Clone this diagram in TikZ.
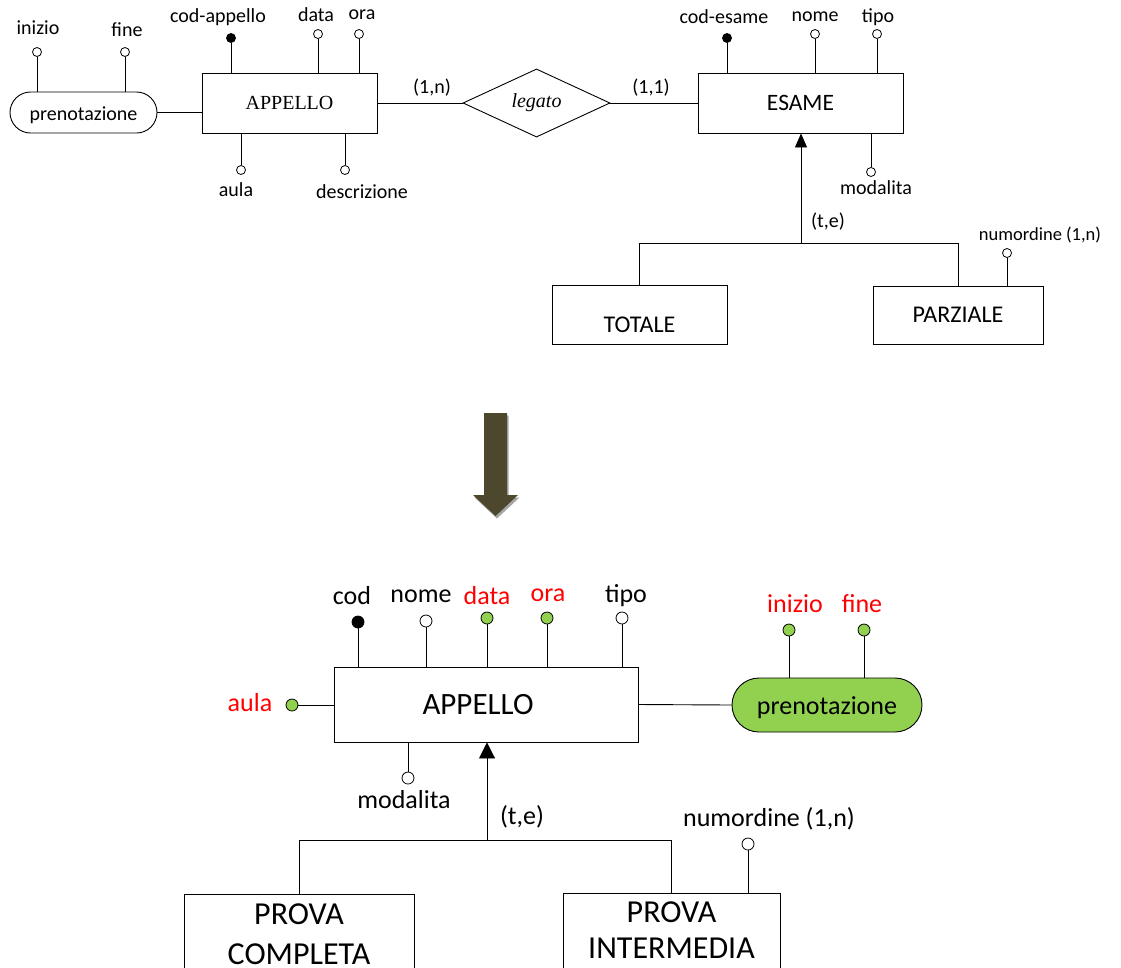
\documentclass[tikz,border=0pt]{standalone}
\usepackage{fontspec}
\setmainfont{Carlito}
\newfontfamily\timesfont{Liberation Serif}
\usetikzlibrary{shapes.geometric,shapes.misc,arrows.meta}
\definecolor{attrgreen}{HTML}{92D050}
\definecolor{arrowolive}{HTML}{4D472E}
\definecolor{shadowgray}{HTML}{A6A6A6}
\begin{document}
\begin{tikzpicture}[x=1pt,y=-1pt,line width=0.9pt,
  entity/.style={draw,rectangle,inner sep=0pt,fill=white},
  attr/.style={draw,circle,inner sep=0pt,minimum size=9pt,fill=white,line width=0.8pt},
  keyattr/.style={attr,fill=black},
  battr/.style={attr,minimum size=12pt},
  bkey/.style={battr,fill=black},
  gattr/.style={battr,fill=attrgreen},
  small/.style={font=\fontsize{20}{24}\selectfont,inner sep=0pt},
  tiny/.style={font=\fontsize{18.5}{22}\selectfont,inner sep=0pt},
  medium/.style={font=\fontsize{26}{31}\selectfont,inner sep=0pt},
  large/.style={font=\fontsize{31}{37}\selectfont,inner sep=0pt},
  isatip/.style={-{Triangle[width=12pt,length=14pt]}},
  bisatip/.style={-{Triangle[width=16pt,length=16pt]}}]
\useasboundingbox (0,0) rectangle (1121,967);
\clip (0,0) rectangle (1121,967);

% ---------------- original schema ----------------
\node[entity,minimum width=175pt,minimum height=60pt,
      font=\timesfont\fontsize{20}{24}\selectfont] (app1) at (289.5,103) {APPELLO};
\node[draw,rounded rectangle,minimum width=147pt,minimum height=41pt,inner sep=0pt,
      label={[small,yshift=-2.5pt]center:prenotazione}] (pren1) at (83.5,112.5) {};
\node[draw,diamond,minimum width=147pt,minimum height=60pt,inner sep=0pt,
      font=\timesfont\itshape\fontsize{20}{24}\selectfont] (legato) at (536.5,103) {legato};
\node[entity,minimum width=205pt,minimum height=60pt,
      font=\fontsize{23.5}{28}\selectfont] (esame) at (800.5,103) {ESAME};
\node[entity,minimum width=175pt,minimum height=59pt,
      label={[font=\fontsize{24}{29}\selectfont,yshift=-10pt]center:TOTALE}] (totale) at (639.5,314.5) {};
\node[entity,minimum width=170pt,minimum height=58pt,
      font=\fontsize{24}{29}\selectfont] (parziale) at (958,315) {PARZIALE};

% attributes of prenotazione
\node[attr] (inizio1) at (37,52) {};
\node[attr] (fine1) at (125,52) {};
\node[small] at (38,28) {inizio};
\node[small] at (127,30) {fine};
\draw (inizio1) -- (inizio1 |- pren1.north);
\draw (fine1) -- (fine1 |- pren1.north);

% attributes of APPELLO
\node[keyattr] (codapp) at (231,38) {};
\node[attr] (data1) at (318,34) {};
\node[attr] (ora1) at (359,34) {};
\node[attr] (aula1) at (241,170) {};
\node[attr] (descr1) at (345,170) {};
\node[small] at (218,17) {cod-appello};
\node[small] at (316,15) {data};
\node[small] at (362,15) {ora};
\node[small] at (236,190) {aula};
\node[small] at (362,192) {descrizione};
\draw (codapp) -- (codapp |- app1.north);
\draw (data1) -- (data1 |- app1.north);
\draw (ora1) -- (ora1 |- app1.north);
\draw (aula1) -- (aula1 |- app1.south);
\draw (descr1) -- (descr1 |- app1.south);

% relationship
\draw (pren1.east) -- (pren1.east -| app1.west);
\draw (app1.east) -- (legato.west);
\draw (legato.east) -- (esame.west);
\node[small] at (432,88) {(1,n)};
\node[small] at (651,88) {(1,1)};

% attributes of ESAME
\node[keyattr] (codes) at (727,38) {};
\node[attr] (nome1) at (815,34) {};
\node[attr] (tipo1) at (877,34) {};
\node[attr] (moda1) at (871,172) {};
\node[small] at (724,17) {cod-esame};
\node[small] at (815,17) {nome};
\node[small] at (878,17) {tipo};
\node[small] at (876,188) {modalita};
\draw (codes) -- (codes |- esame.north);
\draw (nome1) -- (nome1 |- esame.north);
\draw (tipo1) -- (tipo1 |- esame.north);
\draw (moda1) -- (moda1 |- esame.south);

% generalization
\coordinate (isa1) at (801,243);
\draw[isatip] (isa1) -- (isa1 |- esame.south);
\draw (totale.north) -- (totale.north |- isa1) -- (parziale.north |- isa1) -- (parziale.north);
\node[small] at (828,222) {(t,e)};
\node[attr] (numord1) at (1007,253) {};
\node[tiny] at (1040,235) {numordine (1,n)};
\draw (numord1) -- (numord1 |- parziale.north);

% ---------------- transformation arrow ----------------
\begin{scope}[shift={(1.5,2.5)}]
  \fill[shadowgray] (484,413) -- (507,413) -- (507,495) -- (518,495) -- (495.5,516) -- (473,495) -- (484,495) -- cycle;
\end{scope}
\fill[arrowolive] (484,413) -- (507,413) -- (507,495) -- (518,495) -- (495.5,516) -- (473,495) -- (484,495) -- cycle;

% ---------------- restructured schema ----------------
\node[entity,minimum width=304pt,minimum height=75pt,
      label={[large,xshift=-8pt]center:APPELLO}] (app2) at (486,704.5) {};
\node[draw,rounded rectangle,minimum width=190pt,minimum height=54pt,inner sep=0pt,
      fill=attrgreen,label={[medium,yshift=-3pt]center:prenotazione}] (pren2) at (827,705) {};
\draw (app2.east) -- (pren2.west);

% attributes of APPELLO
\node[bkey] (cod2) at (358,622) {};
\node[battr] (nome2) at (426,621) {};
\node[gattr] (data2) at (487,618) {};
\node[gattr] (ora2) at (547,618) {};
\node[battr] (tipo2) at (622,618) {};
\node[gattr] (aula2) at (292,705) {};
\node[battr] (moda2) at (408,778) {};
\node[medium] at (352,596) {cod};
\node[medium] at (421,596) {nome};
\node[medium,text=red] at (487,596) {data};
\node[medium,text=red] at (548,595) {ora};
\node[medium] at (626,596) {tipo};
\node[medium,text=red] at (250,703) {aula};
\node[medium] at (404,800) {modalita};
\draw (cod2) -- (cod2 |- app2.north);
\draw (nome2) -- (nome2 |- app2.north);
\draw (data2) -- (data2 |- app2.north);
\draw (ora2) -- (ora2 |- app2.north);
\draw (tipo2) -- (tipo2 |- app2.north);
\draw (aula2) -- (aula2 -| app2.west);
\draw (moda2) -- (moda2 |- app2.south);

% attributes of prenotazione
\node[gattr] (inizio2) at (789,630) {};
\node[gattr] (fine2) at (864,630) {};
\node[medium,text=red] at (795,604) {inizio};
\node[medium,text=red] at (862,604) {fine};
\draw (inizio2) -- (inizio2 |- pren2.north);
\draw (fine2) -- (fine2 |- pren2.north);

% subentities
\node[entity,minimum width=230pt,minimum height=110pt,
      label={[font=\fontsize{32}{40}\selectfont,align=center,yshift=15pt]center:PROVA\\COMPLETA}] (compl) at (299,949) {};
\node[entity,minimum width=217pt,minimum height=110pt,
      label={[font=\fontsize{32}{36}\selectfont,align=center,yshift=18pt]center:PROVA\\INTERMEDIA}] (interm) at (671.5,948) {};

% generalization
\coordinate (isa2) at (487,840);
\draw[bisatip] (isa2) -- (isa2 |- app2.south);
\draw (compl.north) -- (compl.north |- isa2) -- (interm.north |- isa2) -- (interm.north);
\node[medium] at (522,817) {(t,e)};
\node[battr] (numord2) at (748,844) {};
\node[medium] at (769,819) {numordine (1,n)};
\draw (numord2) -- (numord2 |- interm.north);
\end{tikzpicture}
\end{document}
